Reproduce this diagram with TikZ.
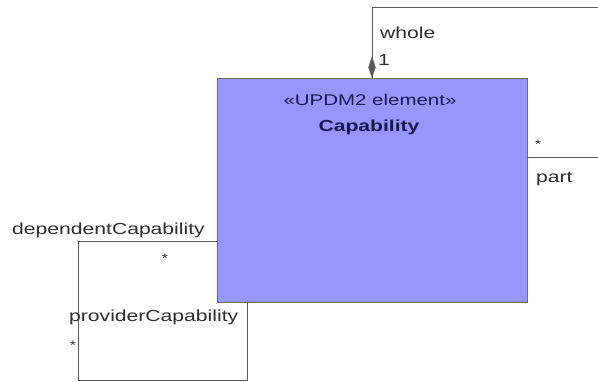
\documentclass[tikz,border=0pt]{standalone}
\usepackage{fontspec}
\setmainfont{Liberation Sans}[FakeStretch=1.32]
\usetikzlibrary{arrows.meta,shapes.geometric}
\definecolor{boxfill}{RGB}{150,150,252}
\definecolor{boxline}{RGB}{110,110,110}
\definecolor{conn}{RGB}{90,90,90}
\definecolor{lbl}{RGB}{45,45,45}
\definecolor{navy}{RGB}{25,25,80}
\tikzset{
  classbox/.style={draw=boxline, fill=boxfill, line width=1pt},
  connector/.style={draw=conn, line width=1pt},
  rolelabel/.style={text=lbl, inner sep=0pt, anchor=west, font=\fontsize{16}{18}\selectfont},
  multlabel/.style={text=lbl, inner sep=0pt, font=\fontsize{12}{14}\selectfont},
}
\begin{document}
\begin{tikzpicture}[x=1pt,y=-1pt]
\useasboundingbox (0,0) rectangle (598,381);
\fill[white] (0,0) rectangle (598,381);
% class box
\node[classbox, minimum width=310pt, minimum height=224pt, anchor=north west, inner sep=0pt] (cap) at (217,78) {};
\node[text=navy, inner sep=0pt, font=\fontsize{15.5}{17}\selectfont] (stereo) at (370,100) {«UPDM2 element»};
\node[text=navy, inner sep=0pt, font=\fontsize{16}{18}\selectfont\bfseries] (capname) at (369,127) {Capability};
% whole/part association
\coordinate (wtop) at (372,78);
\coordinate (c1) at (372,7);
\coordinate (c2) at (600,7);
\coordinate (c3) at (600,157);
\coordinate (pend) at (527,157);
\draw[connector] (wtop) -- (c1) -- (c2) -- (c3) -- (pend);
\node[draw=conn, fill=conn, diamond, minimum width=7pt, minimum height=21pt, inner sep=0pt, anchor=south] (dia) at (wtop) {};
\node[rolelabel] (whole) at (380,33) {whole};
\node[rolelabel] (one) at (378,60) {1};
\node[multlabel, anchor=west] (pstar) at (535,144) {*};
\node[rolelabel] (part) at (536,179) {part};
% dependent/provider association
\coordinate (dstart) at (217,241);
\coordinate (d1) at (78,241);
\coordinate (d2) at (78,380);
\coordinate (d3) at (247,380);
\coordinate (dend) at (247,302);
\draw[connector] (dstart) -- (d1) -- (d2) -- (d3) -- (dend);
\node[rolelabel] (dep) at (12,230) {dependentCapability};
\node[multlabel] (dstar) at (165,258) {*};
\node[rolelabel] (prov) at (69,317) {providerCapability};
\node[multlabel] (pvstar) at (73,345) {*};
\end{tikzpicture}
\end{document}
